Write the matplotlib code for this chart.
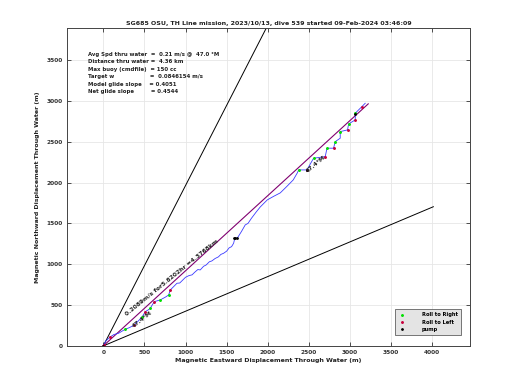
import numpy as np
import matplotlib
matplotlib.use("Agg")
import matplotlib.pyplot as plt

# dive summary values
title = "SG685 OSU, TH Line mission, 2023/10/13, dive 539 started 09-Feb-2024 03:46:09"
avg_spd = 0.21       # m/s
avg_head = 47.0      # deg M
dist_km = 4.36
max_buoy = 150
target_w = 0.0846154
model_slope = 0.4051
net_slope = 0.4544

# net displacement line
net_spd = 0.2089
net_hrs = 5.8202
net_km = 4.3768
net_head = 47.4
cone = 20.0  # +/- heading spread for the black guide lines

# track through water (m east, m north)
track_x = [0, 30, 77, 130, 186, 267, 320, 377, 430, 470, 511, 545, 571, 620, 693, 760,
           795, 815, 850, 896, 930, 960, 1000, 1040, 1080, 1110, 1150, 1179, 1220, 1250,
           1290, 1320, 1360, 1400, 1430, 1463, 1500, 1530, 1560, 1585,
           1600, 1630, 1680, 1726, 1760, 1800, 1830, 1860, 1909, 1994, 2070, 2152, 2230,
           2310, 2359, 2375, 2476, 2557, 2699, 2720, 2800, 2821, 2881, 2881, 2970, 2983,
           3064, 3064, 3125, 3185]
track_y = [0, 60, 106, 140, 155, 204, 225, 257, 310, 351, 420, 440, 461, 542, 563, 600,
           624, 685, 720, 767, 770, 800, 840, 860, 870, 900, 935, 930, 975, 990,
           1030, 1040, 1070, 1090, 1120, 1134, 1160, 1200, 1215, 1257,
           1320, 1320, 1400, 1481, 1500, 1560, 1600, 1640, 1701, 1787, 1830, 1873, 1950,
           2032, 2117, 2154, 2154, 2297, 2317, 2420, 2420, 2501, 2542, 2623, 2644, 2717,
           2766, 2848, 2909, 2970]

roll_right_x = [267, 470, 571, 693, 795, 2375, 2557, 2720, 2821, 2881, 2983, 3064]
roll_right_y = [204, 351, 461, 563, 624, 2154, 2297, 2420, 2501, 2623, 2717, 2848]
roll_left_x = [0, 10, 77, 377, 511, 620, 815, 2476, 2699, 2800, 2970, 3064, 3150]
roll_left_y = [0, 15, 106, 257, 420, 542, 685, 2154, 2317, 2420, 2644, 2766, 2930]
pump_x = [0, 1585, 1600, 1620, 2476, 3064]
pump_y = [0, 1320, 1320, 1320, 2154, 2840]

fig = plt.figure(figsize=(5.2, 3.9), dpi=100)
ax = fig.add_axes([0.129, 0.113, 0.775, 0.815])

bold = dict(fontweight="bold", color="#222222")

# guide lines at heading +/- cone, length of distance thru water
for h in [avg_head - cone, avg_head + cone]:
    r = dist_km * 1000
    ax.plot([0, r*np.sin(np.radians(h))], [0, r*np.cos(np.radians(h))], color="black", lw=0.7)

# net displacement line
r = net_km * 1000
ax.plot([0, r*np.sin(np.radians(net_head))], [0, r*np.cos(np.radians(net_head))],
        color="#800070", lw=0.8)

ax.plot(track_x, track_y, color="#3a3aff", lw=0.6)
ax.plot(roll_right_x, roll_right_y, ".", color="#00e000", ms=2.2, label="Roll to Right")
ax.plot(roll_left_x, roll_left_y, ".", color="#c8003c", ms=2.2, label="Roll to Left")
ax.plot(pump_x, pump_y, ".", color="black", ms=2, label="pump")

ax.text(290, 365, "%.4fm/s for%.4fhr =%.4fkm" % (net_spd, net_hrs, net_km),
        rotation=39, fontsize=4.3, rotation_mode="anchor", **bold)
ax.text(370, 225, "%.1f°M" % net_head, rotation=38, fontsize=4.3, rotation_mode="anchor", **bold)
ax.text(2480, 2120, "%.1f°M" % net_head, rotation=40, fontsize=4.3, rotation_mode="anchor", **bold)

info = ("Avg Spd thru water  =  %.2f m/s @  %.1f °M\n"
        "Distance thru water =  %.2f km\n"
        "Max buoy (cmdfile)  = %d cc\n"
        "Target w                   =  %.7f m/s\n"
        "Model glide slope    = %.4f\n"
        "Net glide slope         = %.4f") % (avg_spd, avg_head, dist_km, max_buoy,
                                              target_w, model_slope, net_slope)
ax.text(0.052, 0.925, info, transform=ax.transAxes, fontsize=3.9, va="top",
        linespacing=1.6, **bold)

ax.set_xlim(-440, 4460)
ax.set_ylim(0, 3890)
ax.set_xticks(np.arange(0, 4001, 500))
ax.set_yticks(np.arange(0, 3501, 500))
ax.grid(True, color="#e6e6e6", lw=0.6)
ax.set_axisbelow(True)
ax.tick_params(direction="in", length=3, width=0.6, top=True, right=True,
               labelsize=4.2, colors="#333333", pad=3)
for lab in ax.get_xticklabels() + ax.get_yticklabels():
    lab.set_fontweight("bold")
for s in ax.spines.values():
    s.set_color("#444444")
    s.set_linewidth(0.7)

ax.set_xlabel("Magnetic Eastward Displacement Through Water (m)", fontsize=4.5, labelpad=2, **bold)
ax.set_ylabel("Magnetic Northward Displacement Through Water (m)", fontsize=4.5, labelpad=5, **bold)
ax.set_title(title, fontsize=4.5, pad=2, **bold)

leg = ax.legend(loc="lower right", fontsize=3.7, frameon=True, fancybox=False,
                facecolor="#e4e4e4", edgecolor="#444444", framealpha=1,
                handlelength=1.5, handletextpad=3, borderpad=0.6, labelspacing=0.45,
                bbox_to_anchor=(0.983, 0.026))
leg.get_frame().set_linewidth(0.5)
for t in leg.get_texts():
    t.set_fontweight("bold")

fig.savefig("out.png", dpi=100)
